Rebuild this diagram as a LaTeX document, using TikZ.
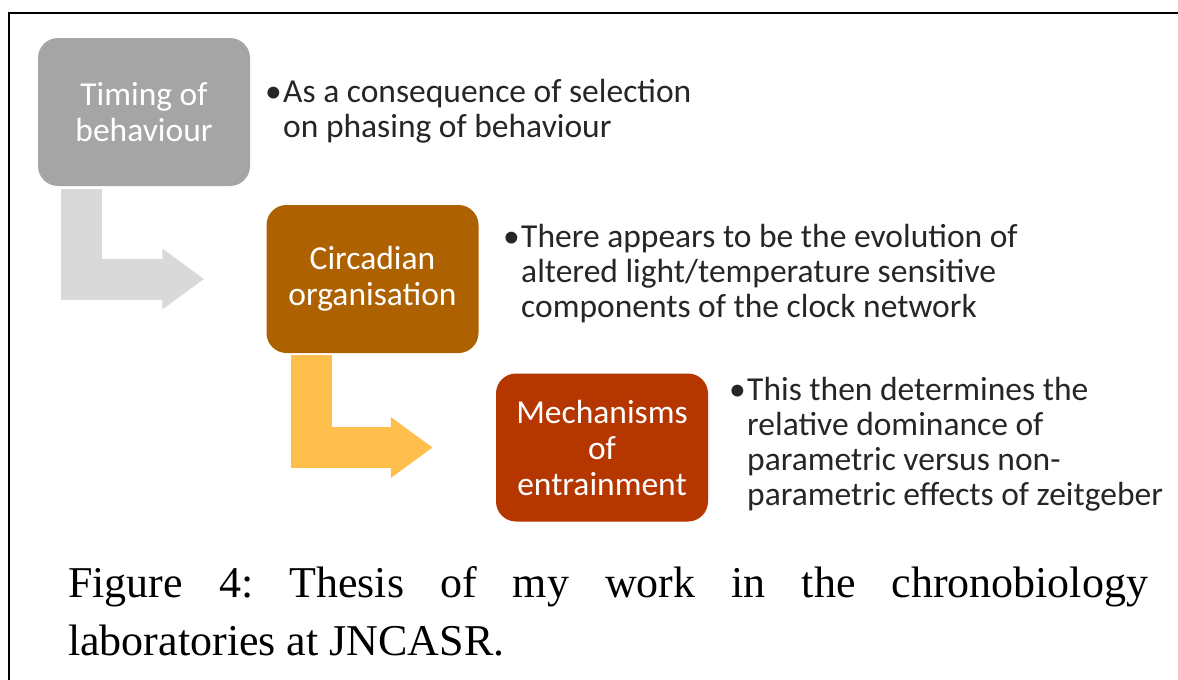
\documentclass[tikz,border=0pt]{standalone}
\usepackage{fontspec}
\setmainfont{Liberation Serif}
\newfontfamily\calib{Carlito}
\usetikzlibrary{positioning,arrows.meta}
\definecolor{boxgray}{RGB}{165,165,165}
\definecolor{arrowgray}{RGB}{217,217,217}
\definecolor{boxbrown}{RGB}{174,97,0}
\definecolor{arroworange}{RGB}{255,191,76}
\definecolor{boxrust}{RGB}{182,54,0}
\definecolor{bodytext}{RGB}{38,38,38}
\newcommand{\bul}{\makebox[18pt][l]{\textbullet}}
\newcommand{\ind}{\hspace*{18pt}}

\begin{document}
\begin{tikzpicture}[
  x=1pt, y=-1pt,
  stage/.style={rectangle, rounded corners=20pt, minimum width=212pt,
    minimum height=148pt, inner sep=0pt, text=white, align=center,
    font=\calib\fontsize{33.5}{36}\selectfont},
  note/.style={anchor=base west, inner sep=0pt, text=bodytext, align=left,
    font=\calib\fontsize{33.5}{35}\selectfont},
  bendarrow/.style={line width=41pt, -{Triangle[length=42pt, width=58pt]}},
]
  \useasboundingbox (0,0) rectangle (1178,680);
  % Frame
  \draw[line width=2pt] (9,700) |- (1200,13);

  % Stages
  \node[stage, fill=boxgray] (tb) at (144,112) {Timing of\\behaviour};
  \node[stage, fill=boxbrown] (ca) at (372.5,279) {Circadian\\organisation};
  \node[stage, fill=boxrust] (me) at (602,447.5) {Mechanisms\\of\\entrainment};

  % Bent arrows
  \draw[bendarrow, arrowgray] ([xshift=44pt, yshift=-3pt]tb.south west)
    |- ([xshift=-62pt]ca.west);
  \draw[bendarrow, arroworange] ([xshift=45pt, yshift=-2pt]ca.south west)
    |- ([xshift=-63pt]me.west);

  % Notes (anchored on the last baseline)
  \node[note] (n1) at (265,137)
    {\bul As a consequence of selection\\\ind on phasing of behaviour};
  \node[note] (n2) at (503,317)
    {\bul There appears to be the evolution of\\\ind altered light/temperature sensitive\\\ind components of the clock network};
  \node[note] (n3) at (729,505)
    {\bul This then determines the\\\ind relative dominance of\\\ind parametric versus non-\\\ind parametric effects of zeitgeber};

  % Caption
  \node[anchor=base west, inner sep=0pt, text width=1080pt, align=justify,
    font=\fontsize{44}{58}\selectfont\frenchspacing] (cap) at (68,597)
    {\noindent Figure 4: Thesis of my work in the chronobiology\linebreak
     laboratories at JNCASR.};
\end{tikzpicture}
\end{document}
